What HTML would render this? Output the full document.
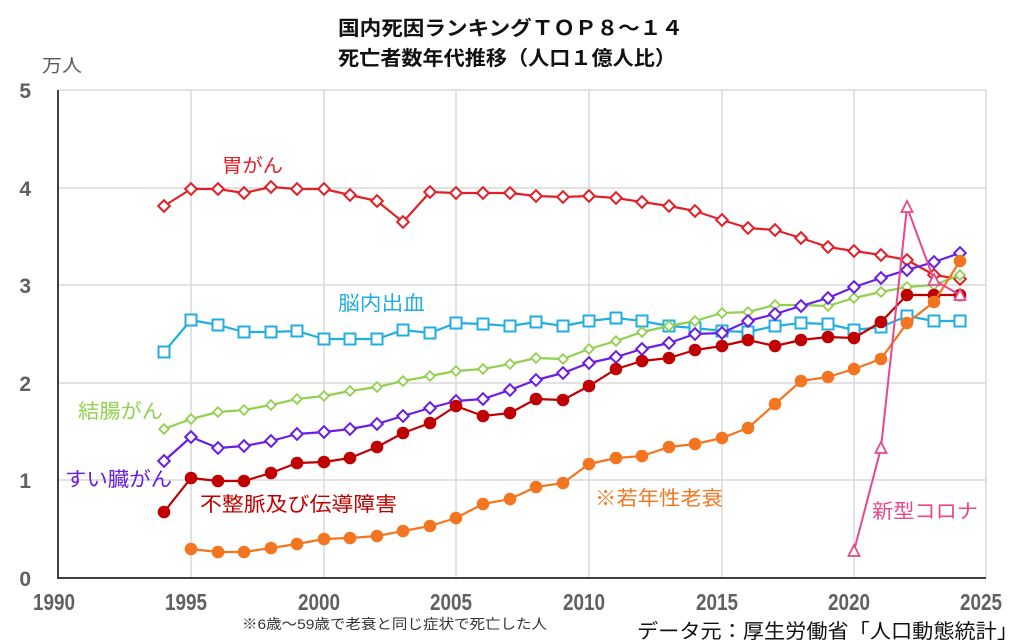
<!DOCTYPE html>
<html><head><meta charset="utf-8"><style>
html,body{margin:0;padding:0;background:#fff;}
svg{display:block;}
text{font-family:"Liberation Sans","Noto Sans CJK JP",sans-serif;}
</style></head><body>
<svg width="1024" height="642" viewBox="0 0 1024 642" xmlns="http://www.w3.org/2000/svg">
<defs>
<marker id="mRed" markerWidth="16" markerHeight="16" refX="8" refY="8" markerUnits="userSpaceOnUse" orient="0"><path d="M8 2.2 L13.8 8 L8 13.8 L2.2 8Z" fill="#fff" stroke="#e32028" stroke-width="2"/></marker>
<marker id="mGrn" markerWidth="14" markerHeight="14" refX="7" refY="7" markerUnits="userSpaceOnUse" orient="0"><path d="M7 2.2 L11.8 7 L7 11.8 L2.2 7Z" fill="#fff" stroke="#92d050" stroke-width="1.8"/></marker>
<marker id="mPur" markerWidth="16" markerHeight="16" refX="8" refY="8" markerUnits="userSpaceOnUse" orient="0"><path d="M8 2.2 L13.8 8 L8 13.8 L2.2 8Z" fill="#fff" stroke="#6a1ee6" stroke-width="2"/></marker>
<marker id="mBlu" markerWidth="16" markerHeight="16" refX="8" refY="8" markerUnits="userSpaceOnUse" orient="0"><rect x="2.5" y="2.5" width="11" height="11" fill="#fff" stroke="#23aee0" stroke-width="2"/></marker>
<marker id="mDrk" markerWidth="16" markerHeight="16" refX="8" refY="8" markerUnits="userSpaceOnUse" orient="0"><circle cx="8" cy="8" r="6.3" fill="#c00000"/></marker>
<marker id="mOrg" markerWidth="16" markerHeight="16" refX="8" refY="8" markerUnits="userSpaceOnUse" orient="0"><circle cx="8" cy="8" r="6.3" fill="#f47520"/></marker>
<marker id="mPnk" markerWidth="16" markerHeight="16" refX="8" refY="8" markerUnits="userSpaceOnUse" orient="0"><path d="M8 2 L13.5 13 L2.5 13Z" fill="#fff" stroke="#e8488a" stroke-width="1.8"/></marker>
</defs>

<!-- grid -->
<g stroke="#d9d9d9" stroke-width="1.5" fill="none">
<line x1="58" y1="90" x2="986" y2="90"/>
<line x1="58" y1="188" x2="986" y2="188"/>
<line x1="58" y1="285" x2="986" y2="285"/>
<line x1="58" y1="383" x2="986" y2="383"/>
<line x1="58" y1="480" x2="986" y2="480"/>
<line x1="191" y1="90" x2="191" y2="578"/>
<line x1="324" y1="90" x2="324" y2="578"/>
<line x1="456" y1="90" x2="456" y2="578"/>
<line x1="589" y1="90" x2="589" y2="578"/>
<line x1="722" y1="90" x2="722" y2="578"/>
<line x1="854" y1="90" x2="854" y2="578"/>
<line x1="986" y1="90" x2="986" y2="578"/>
</g>
<g stroke="#404040" stroke-width="2">
<line x1="58" y1="90" x2="58" y2="579"/>
<line x1="57" y1="578" x2="986" y2="578"/>
</g>

<!-- title -->
<text x="338" y="35" font-size="20" font-weight="bold" fill="#111" textLength="345" lengthAdjust="spacingAndGlyphs">国内死因ランキングＴＯＰ８～１４</text>
<text x="338" y="65" font-size="20" font-weight="bold" fill="#111" textLength="338" lengthAdjust="spacingAndGlyphs">死亡者数年代推移（人口１億人比）</text>

<!-- y unit -->
<text x="42" y="72" font-size="18" fill="#595959" textLength="40" lengthAdjust="spacingAndGlyphs">万人</text>

<!-- y ticks -->
<g font-size="21" font-weight="bold" fill="#606060" text-anchor="end">
<text x="31" y="98">5</text>
<text x="31" y="196">4</text>
<text x="31" y="293">3</text>
<text x="31" y="391">2</text>
<text x="31" y="488">1</text>
<text x="31" y="586">0</text>
</g>
<!-- x ticks -->
<g font-size="23" font-weight="bold" fill="#606060">
<text x="33" y="610" textLength="42" lengthAdjust="spacingAndGlyphs">1990</text>
<text x="165" y="610" textLength="42" lengthAdjust="spacingAndGlyphs">1995</text>
<text x="298" y="610" textLength="42" lengthAdjust="spacingAndGlyphs">2000</text>
<text x="430" y="610" textLength="42" lengthAdjust="spacingAndGlyphs">2005</text>
<text x="563" y="610" textLength="42" lengthAdjust="spacingAndGlyphs">2010</text>
<text x="696" y="610" textLength="42" lengthAdjust="spacingAndGlyphs">2015</text>
<text x="828" y="610" textLength="42" lengthAdjust="spacingAndGlyphs">2020</text>
<text x="960" y="610" textLength="42" lengthAdjust="spacingAndGlyphs">2025</text>
</g>

<!-- series -->
<polyline fill="none" stroke="#e32028" stroke-width="2.2" stroke-linejoin="round" marker-start="url(#mRed)" marker-mid="url(#mRed)" marker-end="url(#mRed)"
points="164,206 191,189 218,189 244,193 271,187 297,189 324,189 350,195 377,201 403,222 430,192 456,193 483,193 510,193 536,196 563,197 589,196 616,198 642,202 669,206 695,211 722,220 748,228 775,230 801,238 828,247 854,251 881,255 907,260 934,275 960,279"/>

<polyline fill="none" stroke="#23aee0" stroke-width="2.2" stroke-linejoin="round" marker-start="url(#mBlu)" marker-mid="url(#mBlu)" marker-end="url(#mBlu)"
points="164,352 191,320 218,325 244,332 271,332 297,331 324,339 350,339 377,339 403,330 430,333 456,323 483,324 510,326 536,322 563,326 589,321 616,318 642,321 669,326 695,328 722,331 748,332 775,326 801,323 828,324 854,330 881,327 907,316 934,321 960,321"/>

<polyline fill="none" stroke="#92d050" stroke-width="2.2" stroke-linejoin="round" marker-start="url(#mGrn)" marker-mid="url(#mGrn)" marker-end="url(#mGrn)"
points="164,429 191,419 218,412 244,410 271,405 297,399 324,396 350,391 377,387 403,381 430,376 456,371 483,369 510,364 536,358 563,359 589,349 616,341 642,332 669,326 695,321 722,313 748,312 775,305 801,305 828,306 854,298 881,292 907,287 934,285 960,275"/>

<polyline fill="none" stroke="#6a1ee6" stroke-width="2.2" stroke-linejoin="round" marker-start="url(#mPur)" marker-mid="url(#mPur)" marker-end="url(#mPur)"
points="164,461 191,437 218,448 244,446 271,441 297,434 324,432 350,429 377,424 403,416 430,408 456,401 483,399 510,390 536,380 563,373 589,363 616,357 642,349 669,343 695,334 722,333 748,321 775,314 801,306 828,298 854,287 881,278 907,270 934,262 960,253"/>

<polyline fill="none" stroke="#c00000" stroke-width="2.2" stroke-linejoin="round" marker-start="url(#mDrk)" marker-mid="url(#mDrk)" marker-end="url(#mDrk)"
points="164,512 191,478 218,481 244,481 271,473 297,463 324,462 350,458 377,447 403,433 430,423 456,406 483,416 510,413 536,399 563,400 589,386 616,369 642,361 669,358 695,350 722,346 748,340 775,346 801,340 828,337 854,338 881,322 907,295 934,295 960,295"/>

<polyline fill="none" stroke="#f47520" stroke-width="2.2" stroke-linejoin="round" marker-start="url(#mOrg)" marker-mid="url(#mOrg)" marker-end="url(#mOrg)"
points="191,549 218,552 244,552 271,548 297,544 324,539 350,538 377,536 403,531 430,526 456,518 483,504 510,499 536,487 563,483 589,464 616,458 642,456 669,447 695,444 722,438 748,428 775,404 801,381 828,377 854,369 881,359 907,323 934,302 960,261"/>

<polyline fill="none" stroke="#e8488a" stroke-width="2" stroke-linejoin="round" marker-start="url(#mPnk)" marker-mid="url(#mPnk)" marker-end="url(#mPnk)"
points="854,551 881,448 907,207 934,280 960,295"/>

<!-- series labels -->
<text x="222" y="172" font-size="19" fill="#e32028" textLength="61" lengthAdjust="spacingAndGlyphs">胃がん</text>
<text x="338" y="310" font-size="20" fill="#23aee0" textLength="87" lengthAdjust="spacingAndGlyphs">脳内出血</text>
<text x="78" y="418" font-size="20" fill="#92d050" textLength="85" lengthAdjust="spacingAndGlyphs">結腸がん</text>
<text x="65" y="486" font-size="20" fill="#6a1ee6" textLength="107" lengthAdjust="spacingAndGlyphs">すい臓がん</text>
<text x="200" y="511" font-size="20" fill="#c00000" textLength="197" lengthAdjust="spacingAndGlyphs">不整脈及び伝導障害</text>
<text x="595" y="505" font-size="20" fill="#f47520" textLength="128" lengthAdjust="spacingAndGlyphs">※若年性老衰</text>
<text x="872" y="518" font-size="20" fill="#e8488a" textLength="106" lengthAdjust="spacingAndGlyphs">新型コロナ</text>

<!-- footer -->
<text x="242" y="629" font-size="14" fill="#333" textLength="305" lengthAdjust="spacingAndGlyphs">※6歳～59歳で老衰と同じ症状で死亡した人</text>
<text x="637" y="638" font-size="20" fill="#111" textLength="381" lengthAdjust="spacingAndGlyphs">データ元：厚生労働省「人口動態統計」</text>
</svg>
</body></html>
